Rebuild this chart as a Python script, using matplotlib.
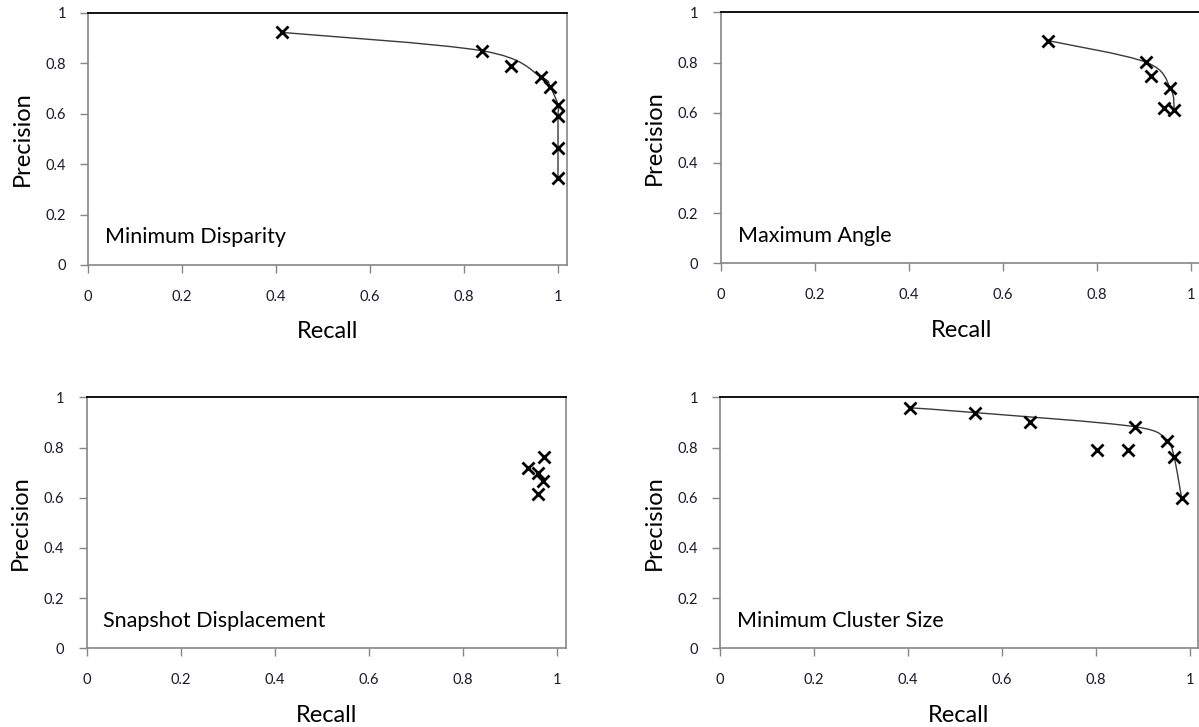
import matplotlib
matplotlib.use("Agg")
import matplotlib.pyplot as plt
from matplotlib.path import Path
from matplotlib.patches import PathPatch

plt.rcParams["font.family"] = ["Lato", "DejaVu Sans"]

# Minimum Disparity
md_recall = [0.412, 0.839, 0.899, 0.964, 0.983, 1.0, 1.0, 1.0, 1.0]
md_prec = [0.923, 0.850, 0.791, 0.747, 0.708, 0.635, 0.590, 0.465, 0.345]
md_front = [0, 1, 3, 4, 5, 6, 7, 8]

# Maximum Angle
ma_recall = [0.697, 0.905, 0.916, 0.957, 0.944, 0.965]
ma_prec = [0.887, 0.801, 0.746, 0.697, 0.620, 0.611]
ma_front = [0, 1, 3, 5]

# Snapshot Displacement
sd_recall = [0.974, 0.938, 0.961, 0.970, 0.961]
sd_prec = [0.761, 0.717, 0.697, 0.668, 0.615]
sd_front = []

# Minimum Cluster Size
mc_recall = [0.405, 0.543, 0.660, 0.803, 0.868, 0.882, 0.950, 0.966, 0.982]
mc_prec = [0.958, 0.939, 0.903, 0.789, 0.789, 0.883, 0.825, 0.763, 0.600]
mc_front = [0, 1, 5, 6, 7, 8]

ticks = [0, 0.2, 0.4, 0.6, 0.8, 1]
tick_labels = ["0", "0.2", "0.4", "0.6", "0.8", "1"]

panels = [
    ("Minimum Disparity", md_recall, md_prec, md_front, [88, 13, 567, 265]),
    ("Maximum Angle", ma_recall, ma_prec, ma_front, [720.7, 12.3, 1202, 263.3]),
    ("Snapshot Displacement", sd_recall, sd_prec, sd_front, [86.7, 397.3, 566, 648.3]),
    ("Minimum Cluster Size", mc_recall, mc_prec, mc_front, [720, 397.3, 1198, 648.3]),
]

W, H = 1199, 727
fig = plt.figure(figsize=(W / 100, H / 100), dpi=100)


def smooth_path(xs, ys):
    # excel-like smoothed line: cubic bezier through the points
    pts = list(zip(xs, ys))
    verts = [pts[0]]
    codes = [Path.MOVETO]
    n = len(pts)
    for i in range(n - 1):
        p0 = pts[max(i - 1, 0)]
        p1 = pts[i]
        p2 = pts[i + 1]
        p3 = pts[min(i + 2, n - 1)]
        c1 = (p1[0] + (p2[0] - p0[0]) / 6, p1[1] + (p2[1] - p0[1]) / 6)
        c2 = (p2[0] - (p3[0] - p1[0]) / 6, p2[1] - (p3[1] - p1[1]) / 6)
        verts += [c1, c2, p2]
        codes += [Path.CURVE4] * 3
    return Path(verts, codes)


for name, rec, prec, front, (l, t, r, b) in panels:
    ax = fig.add_axes([l / W, 1 - b / H, (r - l) / W, (b - t) / H])
    x1 = (r - l) / 470.0
    ax.set_xlim(0, x1)
    ax.set_ylim(0, 1)

    if front:
        fx = [rec[i] for i in front]
        fy = [prec[i] for i in front]
        ax.add_patch(PathPatch(smooth_path(fx, fy), fill=False, edgecolor="#3a3a3a", lw=1.0, zorder=2))
    ax.plot(rec, prec, linestyle="none", marker="x", markersize=9, mew=2, color="black", zorder=3)

    ax.set_xticks(ticks)
    ax.set_xticklabels(tick_labels)
    ax.set_yticks(ticks)
    ax.set_yticklabels(tick_labels)
    ax.tick_params(axis="both", direction="out", length=6, width=1, color="#868686",
                   labelsize=10.5, labelcolor="#1a1a2a")
    ax.tick_params(axis="x", pad=12)
    ax.tick_params(axis="y", pad=10)

    for side in ["left", "bottom", "right"]:
        ax.spines[side].set_color("#868686")
        ax.spines[side].set_linewidth(1.2)
    ax.spines["top"].set_color("black")
    ax.spines["top"].set_linewidth(1.3)

    ax.set_xlabel("Recall", fontsize=17, va="center")
    ax.set_ylabel("Precision", fontsize=17, va="center")
    ax.xaxis.set_label_coords(0.5, -67 / (b - t))
    ax.yaxis.set_label_coords(-66 / (r - l), 0.5)

    ax.text(0.035, 0.11, name, transform=ax.transAxes, fontsize=15.5, va="center", ha="left", color="black")

fig.savefig("out.png", dpi=100)
